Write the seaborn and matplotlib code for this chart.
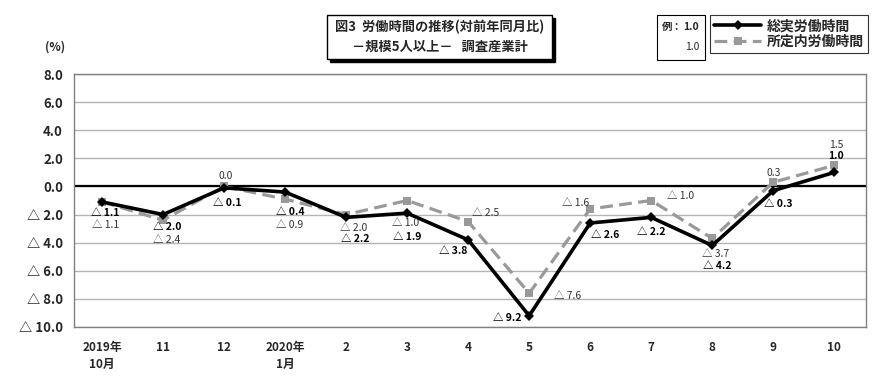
import numpy as np
import pandas as pd
import seaborn as sns
import matplotlib.pyplot as plt
from matplotlib.patches import Rectangle
from matplotlib.ticker import FuncFormatter

# data
months = ["2019年\n10月", "11", "12", "2020年\n1月", "2", "3", "4", "5", "6", "7", "8", "9", "10"]
total_hours = [-1.1, -2.0, -0.1, -0.4, -2.2, -1.9, -3.8, -9.2, -2.6, -2.2, -4.2, -0.3, 1.0]
scheduled_hours = [-1.1, -2.4, 0.0, -0.9, -2.0, -1.0, -2.5, -7.6, -1.6, -1.0, -3.7, 0.3, 1.5]

# label offsets in pixels (dx, dy)
total_offsets = [(3, -11), (4, -12), (3, -15), (5, -20), (9, -22), (0, -24), (-15, -11),
                 (-22, -2), (15, -12), (0, -15), (5, -21), (5, -13), (2, 16)]
sched_offsets = [(3, -23), (4, -20), (2, 10), (5, -26), (7, -13), (-2, -22), (17, 9),
                 (38, -3), (-15, 6), (29, 5), (3, -16), (0, 9), (2, 20)]

sns.set_style("white")
plt.rcParams['font.family'] = ['Noto Sans CJK JP', 'DejaVu Sans']


def fmt(v):
    if round(v, 1) < 0:
        return "△ %.1f" % abs(v)
    return "%.1f" % v


df = pd.DataFrame({"x": np.arange(len(months)), "total": total_hours, "sched": scheduled_hours})

fig = plt.figure(figsize=(8.9, 3.83), dpi=100)
ax = fig.add_axes([74 / 890, 1 - 327 / 383, 792 / 890, 253 / 383])

for y in np.arange(-10, 9, 2):
    ax.axhline(y, color="#b4b4b4", lw=1, zorder=0)
ax.axhline(0, color="black", lw=1.6, zorder=1)

sns.lineplot(data=df, x="x", y="sched", ax=ax, color="#999999", lw=2.3, linestyle=(0, (4, 2)),
             marker="s", markersize=6, markeredgewidth=0, label="所定内労働時間", zorder=2)
sns.lineplot(data=df, x="x", y="total", ax=ax, color="black", lw=2.6,
             marker="D", markersize=5, markeredgewidth=0, label="総実労働時間", zorder=3)

for i, v in enumerate(total_hours):
    ax.annotate(fmt(v), (i, v), xytext=total_offsets[i], textcoords="offset pixels",
                ha="center", va="center", fontsize=7.5, fontweight="bold", color="black")
for i, v in enumerate(scheduled_hours):
    ax.annotate(fmt(v), (i, v), xytext=sched_offsets[i], textcoords="offset pixels",
                ha="center", va="center", fontsize=7.5, color="#333333")

ax.set_xlim(-0.46, 12.52)
ax.set_ylim(-10, 8)
ax.set_yticks(np.arange(-10, 9, 2))
ax.yaxis.set_major_formatter(FuncFormatter(lambda v, p: fmt(v)))
ax.set_xticks(np.arange(len(months)))
ax.set_xticklabels(months, fontsize=8.5, fontweight="bold", va="top", linespacing=1.4)
for t in ax.get_yticklabels():
    t.set_fontsize(9.5)
    t.set_fontweight("bold")
ax.tick_params(axis="y", length=0, pad=8)
ax.tick_params(axis="x", length=0, pad=10)
ax.set_xlabel("")
ax.set_ylabel("")
for s in ax.spines.values():
    s.set_color("#808080")
    s.set_linewidth(1)

fig.text(55 / 890, 1 - 47 / 383, "(%)", fontsize=8.5, fontweight="bold", ha="center", va="center")

# title box with shadow
W, H = 890, 383
fig.patches.append(Rectangle(((327 + 3) / W, 1 - (59 + 3) / H), 225 / W, 44 / H,
                             transform=fig.transFigure, fc="black", ec="black", zorder=5))
fig.patches.append(Rectangle((327 / W, 1 - 59 / H), 225 / W, 44 / H,
                             transform=fig.transFigure, fc="white", ec="black", lw=1, zorder=6))
fig.text(440 / W, 1 - 27 / H, "図3  労働時間の推移(対前年同月比)", fontsize=9.5, fontweight="bold",
         ha="center", va="center", zorder=7)
fig.text(440 / W, 1 - 47 / H, "－規模5人以上－   調査産業計", fontsize=9.5, fontweight="bold",
         ha="center", va="center", zorder=7)

# example box
fig.patches.append(Rectangle((657 / W, 1 - 60 / H), 48 / W, 45 / H,
                             transform=fig.transFigure, fc="white", ec="black", lw=0.8, zorder=5))
fig.text(662 / W, 1 - 27 / H, "例：", fontsize=7.5, fontweight="bold", ha="left", va="center", zorder=7)
fig.text(699 / W, 1 - 27 / H, "1.0", fontsize=7.5, fontweight="bold", ha="right", va="center", zorder=7)
fig.text(699 / W, 1 - 47 / H, "1.0", fontsize=7.5, ha="right", va="center", zorder=7)

# legend
h, l = ax.get_legend_handles_labels()
leg = fig.legend(h[::-1], l[::-1], loc="upper left", bbox_to_anchor=(710 / W, 1 - 15 / H),
                 frameon=True, fancybox=False, edgecolor="black", handlelength=3.4,
                 prop={"size": 10, "weight": "bold", "family": ['Noto Sans CJK JP', 'DejaVu Sans']},
                 borderpad=0.3, labelspacing=0.15, handletextpad=0.4, borderaxespad=0)
leg.get_frame().set_linewidth(0.8)
ax.get_legend().remove()

fig.savefig("out.png", dpi=100)
